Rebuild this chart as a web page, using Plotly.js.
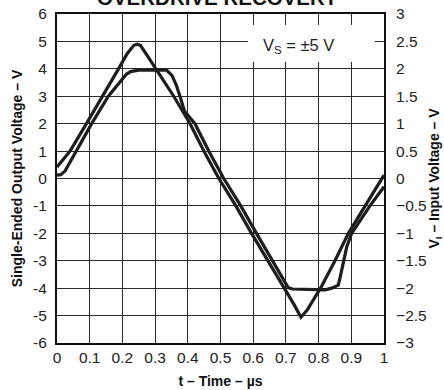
<!DOCTYPE html>
<html><head><meta charset="utf-8">
<script src="https://cdn.plot.ly/plotly-3.0.1.min.js"></script>
<style>html,body{margin:0;padding:0;background:#fff}#chart{width:444px;height:390px}</style>
</head><body><div id="chart"></div>
<script>
// Input voltage (right axis, V) vs time (µs)
const inputTime = [0, 0.04, 0.09, 0.14, 0.188, 0.215, 0.235, 0.245, 0.255, 0.275, 0.305, 0.357, 0.407, 0.449, 0.495, 0.547, 0.595, 0.646, 0.697, 0.725, 0.746, 0.765, 0.806, 0.85, 0.891, 0.942, 1.0];
const inputVolts = [0.21, 0.5, 1.0, 1.5, 2.0, 2.28, 2.43, 2.45, 2.43, 2.25, 1.98, 1.5, 1.0, 0.5, 0.0, -0.5, -1.0, -1.5, -2.0, -2.3, -2.53, -2.4, -2.0, -1.5, -1.0, -0.5, 0.06];
// Single-ended output voltage (left axis, V) vs time (µs)
const outputTime = [0, 0.012, 0.025, 0.058, 0.106, 0.157, 0.198, 0.212, 0.225, 0.25, 0.3, 0.335, 0.352, 0.365, 0.376, 0.39, 0.422, 0.464, 0.51, 0.562, 0.61, 0.66, 0.695, 0.707, 0.72, 0.76, 0.8, 0.82, 0.84, 0.86, 0.866, 0.871, 0.876, 0.886, 0.901, 0.957, 1.0];
const outputVolts = [0.12, 0.14, 0.28, 1.0, 2.0, 3.0, 3.6, 3.8, 3.9, 3.95, 3.96, 3.95, 3.75, 3.4, 3.0, 2.45, 2.0, 1.0, 0.0, -1.0, -2.0, -3.0, -3.75, -3.98, -4.03, -4.04, -4.06, -4.06, -4.0, -3.89, -3.6, -3.34, -3.0, -2.5, -2.0, -1.0, -0.3];

const xTickVals = [0, 0.1, 0.2, 0.3, 0.4, 0.5, 0.6, 0.7, 0.8, 0.9, 1];
const xTickText = ['0', '0.1', '0.2', '0.3', '0.4', '0.5', '0.6', '0.7', '0.8', '0.9', '1'];
const yLeftTickVals = [-6, -5, -4, -3, -2, -1, 0, 1, 2, 3, 4, 5, 6];
const yLeftTickText = ['-6', '-5', '-4', '-3', '-2', '-1', '0', '1', '2', '3', '4', '5', '6'];
const yRightTickVals = [-3, -2.5, -2, -1.5, -1, -0.5, 0, 0.5, 1, 1.5, 2, 2.5, 3];
const yRightTickText = ['\u22123', '\u22122.5', '\u22122', '\u22121.5', '\u22121', '\u22120.5', '0', '0.5', '1', '1.5', '2', '2.5', '3'];

const FONT = 'Liberation Sans, Arial, Helvetica, sans-serif';
const INK = '#1e1c1d';

const traces = [
  {x: inputTime, y: inputVolts, yaxis: 'y2', type: 'scatter', mode: 'lines',
   line: {color: INK, width: 3.2}, hoverinfo: 'skip'},
  {x: outputTime, y: outputVolts, yaxis: 'y', type: 'scatter', mode: 'lines',
   line: {color: INK, width: 3.2}, hoverinfo: 'skip'}
];

const axisCommon = {
  ticks: '', showgrid: true, gridcolor: '#2a2a2a', gridwidth: 1,
  showline: true, linecolor: '#111', linewidth: 2, zeroline: false,
  tickfont: {family: FONT, size: 15.5, color: '#222'}
};

const layout = {
  width: 444, height: 390,
  margin: {l: 57, r: 60, t: 14, b: 47},
  paper_bgcolor: '#fff', plot_bgcolor: '#fff',
  showlegend: false,
  font: {family: FONT, color: '#111'},
  xaxis: Object.assign({}, axisCommon, {
    range: [0, 1], tickvals: xTickVals, ticktext: xTickText, mirror: true,
    ticklabelstandoff: -1,
    title: {text: 't \u2013 Time \u2013 \u00b5s', font: {family: FONT, size: 14, color: '#111', weight: 'bold'}, standoff: 12}
  }),
  yaxis: Object.assign({}, axisCommon, {
    range: [-6, 6], tickvals: yLeftTickVals, ticktext: yLeftTickText, mirror: true,
    ticklabelstandoff: 5,
    title: {text: 'Single-Ended Output Voltage \u2013 V', font: {family: FONT, size: 14, color: '#111', weight: 'bold'}, standoff: 7}
  }),
  yaxis2: Object.assign({}, axisCommon, {
    range: [-3, 3], tickvals: yRightTickVals, ticktext: yRightTickText,
    overlaying: 'y', side: 'right', showgrid: false, ticklabelstandoff: 7,
    title: {text: 'V<sub>I</sub> \u2013 Input Voltage \u2013 V', font: {family: FONT, size: 14, color: '#111', weight: 'bold'}, standoff: 3}
  }),
  shapes: [
    {type: 'rect', xref: 'x', yref: 'y', x0: 0.584, x1: 0.972, y0: 4.25, y1: 5.6,
     fillcolor: '#fff', line: {width: 0}, layer: 'between'}
  ],
  annotations: [
    {text: 'V<sub>S</sub> = \u00b15 V', xref: 'x', yref: 'y', x: 0.74, y: 4.85,
     showarrow: false, font: {family: FONT, size: 16.5, color: '#222'}},
    {text: '<b>OVERDRIVE RECOVERY</b>', xref: 'paper', yref: 'paper', x: 0.49, y: 1.008,
     xanchor: 'center', yanchor: 'bottom', showarrow: false,
     font: {family: FONT, size: 20.5, color: '#111'}}
  ]
};

Plotly.newPlot('chart', traces, layout, {staticPlot: true, displayModeBar: false});
</script>
</body></html>
